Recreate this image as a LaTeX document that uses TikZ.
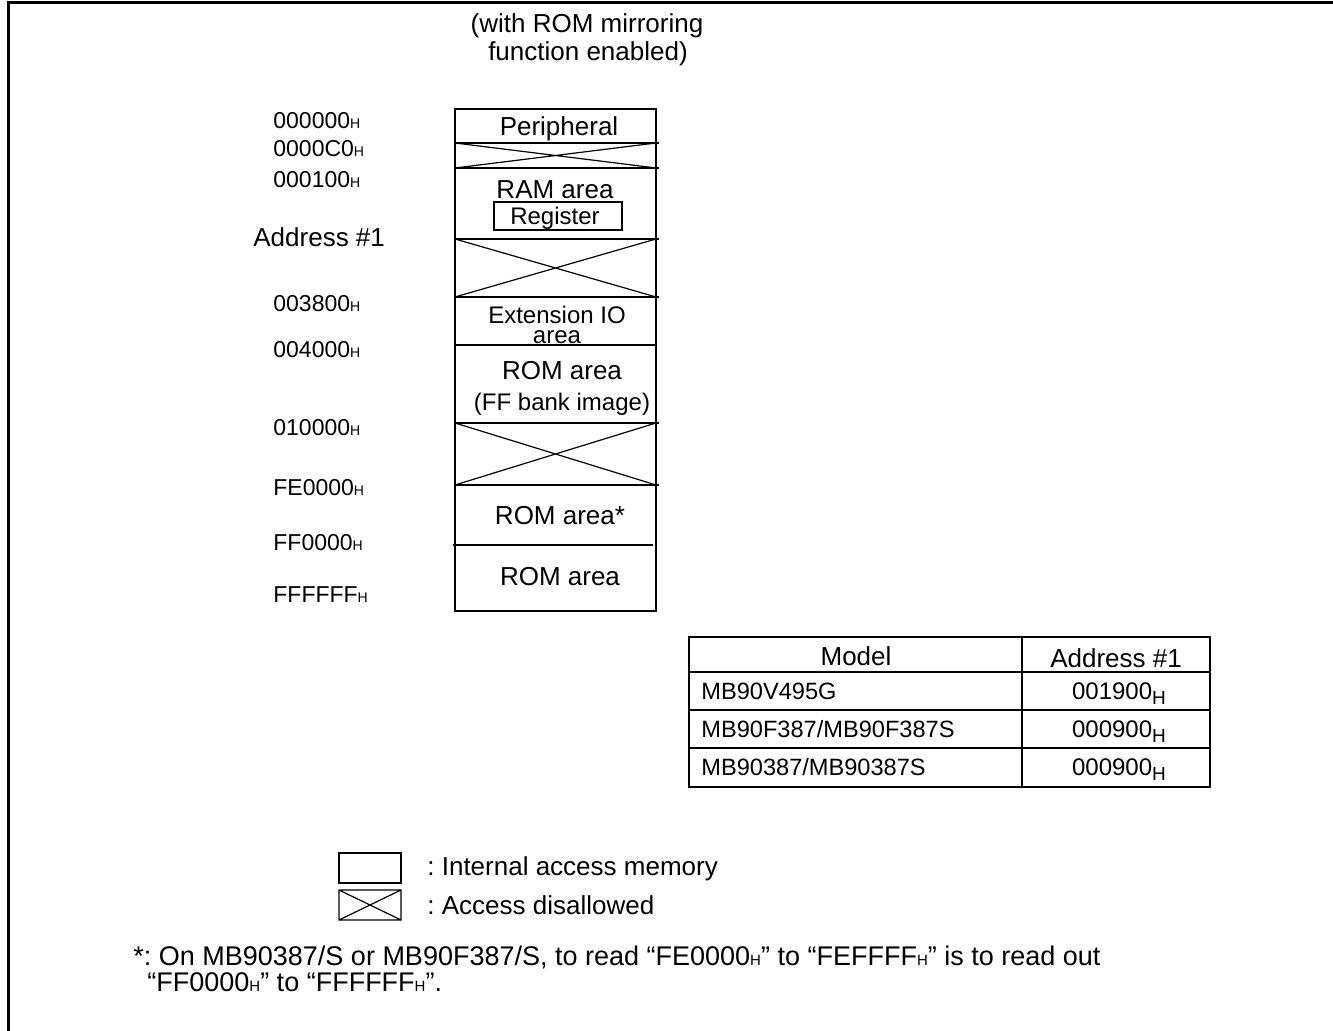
\documentclass[tikz,border=0pt]{standalone}
\usepackage{fontspec}
\setmainfont{Liberation Sans}
\usetikzlibrary{positioning}
\frenchspacing
% address with small H suffix
\newcommand{\hsuf}[1]{#1{\fontsize{7}{7}\selectfont H}}
\newcommand{\hsub}[1]{#1\raisebox{-0.45ex}{\fontsize{9.5}{10}\selectfont H}}
\newcommand{\smh}{{\fontsize{7.5}{8}\selectfont H}}

\begin{document}
\begin{tikzpicture}[x=0.5pt,y=-0.5pt,
  box/.style={line width=1pt},
  thinl/.style={line width=0.6pt},
  lbl/.style={font=\fontsize{13}{15}\selectfont,inner sep=0pt,anchor=base},
  sml/.style={font=\fontsize{12}{13}\selectfont,inner sep=0pt,anchor=base},
  adr/.style={font=\fontsize{11.5}{12}\selectfont,inner sep=0pt,anchor=base west},
  cell/.style={font=\fontsize{11.8}{13}\selectfont,inner sep=0pt,anchor=base west},
  val/.style={font=\fontsize{12}{13}\selectfont,inner sep=0pt,anchor=base}]
  \useasboundingbox (0,0) rectangle (1333,1031);
  \draw[line width=1.5pt] (1333,3) -- (8,3) -- (8,1031);

  % heading
  \node[lbl] (title1) at (587,33) {(with ROM mirroring};
  \node[lbl] (title2) at (588,61) {function enabled)};

  % memory map
  \draw[box] (455,109) rectangle (656,611);
  \foreach \a/\b in {143/168,239/297,423/485} {
    \draw[thinl] (455,\a) -- (659,\a) (455,\b) -- (659,\b);
    \draw[thinl] (455,\a) -- (656,\b) (455,\b) -- (656,\a);
  }
  \draw[thinl] (455,345) -- (656,345);
  \draw[thinl] (453,545) -- (653,545);
  \draw[thinl] (494,202) rectangle (622,230);

  \node[lbl] (peri) at (559,136) {Peripheral};
  \node[lbl] (ram) at (555,199) {RAM area};
  \node[sml] (reg) at (555,225) {Register};
  \node[sml] (ext) at (557,324) {Extension IO};
  \node[sml] (exta) at (557,344) {area};
  \node[lbl] (rom1) at (562,380) {ROM area};
  \node[sml] (img) at (562,411) {(FF bank image)};
  \node[lbl] (rom2) at (560,525) {ROM area*};
  \node[lbl] (rom3) at (560,586) {ROM area};

  % addresses
  \foreach \v/\y [count=\i] in {000000/129,0000C0/157,000100/188,003800/312,
      004000/358,010000/436,FE0000/496,FF0000/551,FFFFFF/603}
    \node[adr] (adr\i) at (273,\y) {\hsuf{\v}};
  \node[lbl,anchor=base west] (adr1lbl) at (253,247) {Address \#1};

  % model table
  \draw[box] (689,637) rectangle (1210,787);
  \draw[box] (1022,637) -- (1022,787);
  \foreach \y in {672,710,748}
    \draw[box] (689,\y) -- (1210,\y);
  \node[lbl] (thmodel) at (856,665) {Model};
  \node[lbl] (thaddr) at (1116,668) {Address \#1};
  \node[cell] (m1) at (701,699) {MB90V495G};
  \node[cell] (m2) at (701,737) {MB90F387/MB90F387S};
  \node[cell] (m3) at (701,775) {MB90387/MB90387S};
  \node[val] (v1) at (1119,699) {\hsub{001900}};
  \node[val] (v2) at (1119,737) {\hsub{000900}};
  \node[val] (v3) at (1119,775) {\hsub{000900}};

  % legend
  \draw[thinl] (339,853) rectangle (401,883);
  \draw[thinl] (339,890) rectangle (401,920) (339,890) -- (401,920) (339,920) -- (401,890);
  \node[lbl,anchor=base west] (leg1) at (427,875) {: Internal access memory};
  \node[lbl,anchor=base west] (leg2) at (427,914) {: Access disallowed};

  % footnote
  \node[lbl,font=\fontsize{13.5}{15}\selectfont,anchor=base west] (note1) at (133,965)
    {*: On MB90387/S or MB90F387/S, to read “FE0000\smh” to “FEFFFF\smh” is to read out};
  \node[lbl,font=\fontsize{13.5}{15}\selectfont,anchor=base west] (note2) at (147,991)
    {“FF0000\smh” to “FFFFFF\smh”.};
\end{tikzpicture}
\end{document}
